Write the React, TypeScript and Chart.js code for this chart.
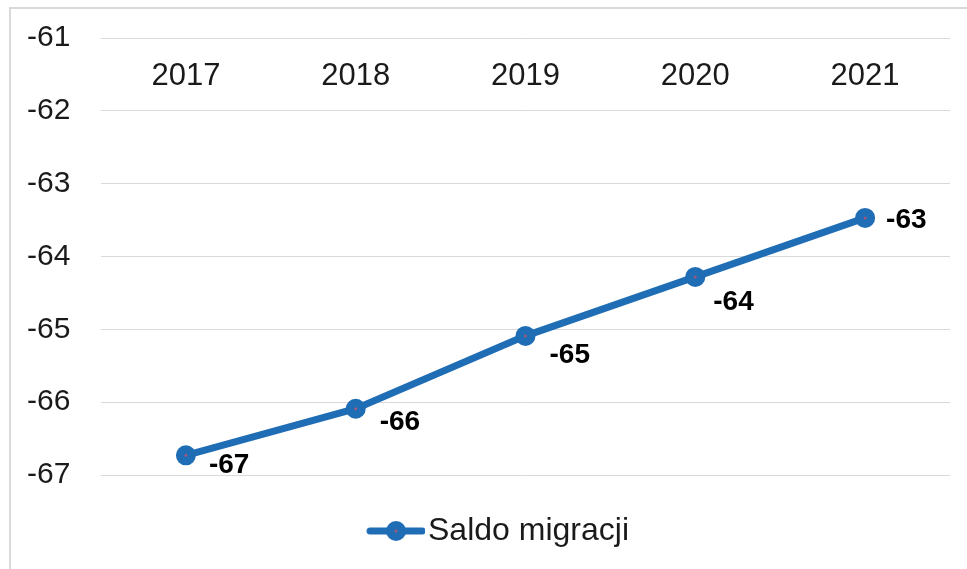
import { useEffect, useRef } from 'react';
import { Chart, registerables } from 'chart.js';

Chart.register(...registerables);

const categories = ['2017', '2018', '2019', '2020', '2021'];
const seriesName = 'Saldo migracji';
const saldoValues = [-66.73, -66.09, -65.09, -64.28, -63.47];
const yTickValues = [-67, -66, -65, -64, -63, -62, -61];

// label offsets relative to each point (style only)
const labelDx = [23, 24, 24, 18, 21];
const labelDy = [10, 14, 19, 25, 2];

const FONT = '"Liberation Sans", Arial, sans-serif';
const BLUE = '#1f6db5';
const GRID = '#d9d9d9';
const TEXT = '#1a1a1a';

function makeLegendImage(): HTMLCanvasElement {
  const c = document.createElement('canvas');
  c.width = 90;
  c.height = 24;
  const ctx = c.getContext('2d')!;
  ctx.strokeStyle = BLUE;
  ctx.lineWidth = 7;
  ctx.lineCap = 'round';
  ctx.beginPath();
  ctx.moveTo(35, 12);
  ctx.lineTo(87, 12);
  ctx.stroke();
  ctx.fillStyle = BLUE;
  ctx.beginPath();
  ctx.arc(61, 12, 10, 0, Math.PI * 2);
  ctx.fill();
  ctx.fillStyle = '#a0577a';
  ctx.beginPath();
  ctx.arc(61, 12, 1.6, 0, Math.PI * 2);
  ctx.fill();
  return c;
}

const framePlugin = {
  id: 'frame',
  beforeDraw(chart: any) {
    const { ctx, width, height } = chart;
    ctx.save();
    ctx.fillStyle = '#ffffff';
    ctx.fillRect(0, 0, width, height);
    ctx.strokeStyle = GRID;
    ctx.lineWidth = 2;
    ctx.beginPath();
    ctx.moveTo(10, height);
    ctx.lineTo(10, 8);
    ctx.lineTo(width, 8);
    ctx.stroke();
    ctx.restore();
  },
};

const dataLabelPlugin = {
  id: 'dataLabels',
  afterDatasetsDraw(chart: any) {
    const { ctx } = chart;
    const meta = chart.getDatasetMeta(0);
    const values = chart.data.datasets[0].data as number[];
    ctx.save();
    ctx.font = `bold 28px ${FONT}`;
    ctx.fillStyle = '#000000';
    ctx.textAlign = 'left';
    ctx.textBaseline = 'middle';
    meta.data.forEach((pt: any, i: number) => {
      const txt = Math.round(values[i]).toString();
      ctx.fillText(txt, pt.x + labelDx[i], pt.y + labelDy[i]);
    });
    ctx.restore();
  },
};

export default function App() {
  const ref = useRef<HTMLCanvasElement | null>(null);

  useEffect(() => {
    document.body.style.margin = '0';
    if (!ref.current) return;
    const legendImg = makeLegendImage();
    const chart = new Chart(ref.current, {
      type: 'line',
      data: {
        labels: categories,
        datasets: [
          {
            label: seriesName,
            data: saldoValues,
            borderColor: BLUE,
            borderWidth: 7,
            backgroundColor: '#a0577a',
            pointBorderColor: BLUE,
            pointBackgroundColor: '#a0577a',
            pointRadius: 5.75,
            pointBorderWidth: 8.5,
            pointHoverRadius: 5.75,
            tension: 0,
            fill: false,
          },
        ],
      },
      options: {
        responsive: false,
        animation: false,
        layout: { padding: { left: 27, right: 17, top: 38, bottom: 12 } },
        scales: {
          x: {
            type: 'category',
            position: { y: yTickValues[yTickValues.length - 1] } as any,
            offset: true,
            grid: { display: false, drawTicks: false },
            border: { display: false },
            ticks: {
              padding: 20,
              color: TEXT,
              font: { family: FONT, size: 31 },
              maxRotation: 0,
            },
            afterFit(scale: any) {
              scale.height = 0;
            },
          },
          y: {
            min: yTickValues[0],
            max: yTickValues[yTickValues.length - 1],
            grid: { color: GRID, lineWidth: 1, drawTicks: false },
            border: { display: false },
            ticks: {
              stepSize: 1,
              padding: 0,
              crossAlign: 'far',
              color: TEXT,
              font: { family: FONT, size: 30 },
            },
            afterFit(scale: any) {
              scale.width = 74;
            },
          },
        },
        plugins: {
          legend: {
            display: true,
            position: 'bottom',
            labels: {
              usePointStyle: true,
              pointStyleWidth: 64,
              padding: 40,
              color: TEXT,
              font: { family: FONT, size: 32 },
              generateLabels: (ch: any) =>
                ch.data.datasets.map((ds: any, i: number) => ({
                  text: ds.label,
                  pointStyle: legendImg,
                  fillStyle: BLUE,
                  strokeStyle: BLUE,
                  lineWidth: 0,
                  hidden: false,
                  datasetIndex: i,
                  fontColor: TEXT,
                })),
            },
          },
          tooltip: { enabled: false },
        },
      },
      plugins: [framePlugin, dataLabelPlugin],
    });
    return () => chart.destroy();
  }, []);

  return (
    <div style={{ position: 'absolute', left: 0, top: 0, width: 967, height: 569 }}>
      <canvas ref={ref} width={967} height={569} style={{ display: 'block' }} />
    </div>
  );
}
